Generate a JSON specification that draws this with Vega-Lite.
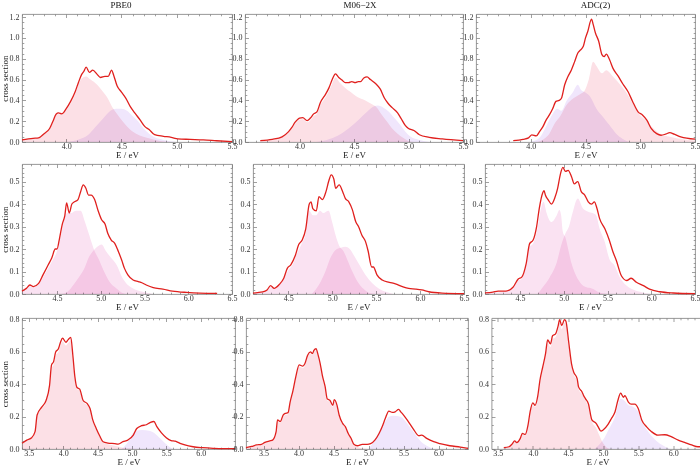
{
"$schema": "https://vega.github.io/schema/vega-lite/v6.json",
"background": "white",
"padding": {"left": 0, "top": 0, "right": 0, "bottom": 0},
"config": {
  "font": "Liberation Serif",
  "view": {"stroke": "#8c8c8c", "strokeWidth": 0.9},
  "axis": {"grid": false, "domain": false, "tickColor": "#777", "tickWidth": 0.7, "labelFont": "Liberation Serif", "labelFontSize": 8, "labelColor": "#333", "labelPadding": 5.5, "titleFont": "Liberation Serif", "titleFontSize": 9, "titleFontWeight": "normal", "titleColor": "#222", "titlePadding": 2, "labelFlush": false, "labelOverlap": false, "labelBound": false},
  "axisX": {"labelPadding": 3.5, "titleY": 8},
  "axisY": {"labelPadding": 6.5, "titlePadding": -0.5},
  "title": {"font": "Liberation Serif", "fontSize": 9, "fontWeight": "normal", "color": "#111", "offset": 3, "frame": "group"}
},
"datasets": {
"p1": [
{"s":"line","E":3.60,"v":0.02},{"s":"line","E":3.70,"v":0.035},{"s":"line","E":3.75,"v":0.04},{"s":"line","E":3.80,"v":0.08},{"s":"line","E":3.85,"v":0.13},{"s":"line","E":3.88,"v":0.2},{"s":"line","E":3.91,"v":0.27},{"s":"line","E":3.93,"v":0.28},{"s":"line","E":3.96,"v":0.27},{"s":"line","E":4.00,"v":0.32},{"s":"line","E":4.04,"v":0.39},{"s":"line","E":4.08,"v":0.48},{"s":"line","E":4.11,"v":0.57},{"s":"line","E":4.14,"v":0.65},{"s":"line","E":4.16,"v":0.68},{"s":"line","E":4.18,"v":0.72},{"s":"line","E":4.21,"v":0.67},{"s":"line","E":4.24,"v":0.69},{"s":"line","E":4.28,"v":0.65},{"s":"line","E":4.31,"v":0.62},{"s":"line","E":4.35,"v":0.63},{"s":"line","E":4.38,"v":0.63},{"s":"line","E":4.41,"v":0.69},{"s":"line","E":4.43,"v":0.64},{"s":"line","E":4.46,"v":0.54},{"s":"line","E":4.50,"v":0.48},{"s":"line","E":4.54,"v":0.42},{"s":"line","E":4.58,"v":0.34},{"s":"line","E":4.62,"v":0.28},{"s":"line","E":4.67,"v":0.21},{"s":"line","E":4.71,"v":0.15},{"s":"line","E":4.75,"v":0.12},{"s":"line","E":4.80,"v":0.07},{"s":"line","E":4.88,"v":0.055},{"s":"line","E":4.95,"v":0.045},{"s":"line","E":5.01,"v":0.03},{"s":"line","E":5.12,"v":0.025},{"s":"line","E":5.24,"v":0.02},{"s":"line","E":5.36,"v":0.012},{"s":"line","E":5.50,"v":0.003},
{"s":"r","E":3.6,"v":0.018},{"s":"r","E":3.7,"v":0.032},{"s":"r","E":3.75,"v":0.035},{"s":"r","E":3.8,"v":0.074},{"s":"r","E":3.85,"v":0.12},{"s":"r","E":3.88,"v":0.19},{"s":"r","E":3.91,"v":0.26},{"s":"r","E":3.93,"v":0.27},{"s":"r","E":3.96,"v":0.26},{"s":"r","E":4.0,"v":0.31},{"s":"r","E":4.04,"v":0.37},{"s":"r","E":4.08,"v":0.46},{"s":"r","E":4.11,"v":0.55},{"s":"r","E":4.14,"v":0.61},{"s":"r","E":4.18,"v":0.63},{"s":"r","E":4.22,"v":0.6},{"s":"r","E":4.28,"v":0.55},{"s":"r","E":4.32,"v":0.5},{"s":"r","E":4.37,"v":0.43},{"s":"r","E":4.42,"v":0.33},{"s":"r","E":4.46,"v":0.27},{"s":"r","E":4.51,"v":0.2},{"s":"r","E":4.6,"v":0.1},{"s":"r","E":4.73,"v":0.04},{"s":"r","E":4.85,"v":0.01},{"s":"r","E":4.95,"v":0},
{"s":"b","E":4.0,"v":0},{"s":"b","E":4.1,"v":0.02},{"s":"b","E":4.2,"v":0.07},{"s":"b","E":4.26,"v":0.14},{"s":"b","E":4.33,"v":0.22},{"s":"b","E":4.4,"v":0.3},{"s":"b","E":4.45,"v":0.32},{"s":"b","E":4.5,"v":0.32},{"s":"b","E":4.55,"v":0.3},{"s":"b","E":4.6,"v":0.25},{"s":"b","E":4.65,"v":0.2},{"s":"b","E":4.7,"v":0.13},{"s":"b","E":4.75,"v":0.08},{"s":"b","E":4.8,"v":0.045},{"s":"b","E":4.88,"v":0.02},{"s":"b","E":5.0,"v":0}
],
"p2": [
{"s":"line","E":3.64,"v":0.013},{"s":"line","E":3.75,"v":0.026},{"s":"line","E":3.84,"v":0.05},{"s":"line","E":3.90,"v":0.1},{"s":"line","E":3.93,"v":0.14},{"s":"line","E":3.96,"v":0.19},{"s":"line","E":4.00,"v":0.23},{"s":"line","E":4.03,"v":0.235},{"s":"line","E":4.07,"v":0.205},{"s":"line","E":4.10,"v":0.23},{"s":"line","E":4.13,"v":0.27},{"s":"line","E":4.16,"v":0.29},{"s":"line","E":4.19,"v":0.375},{"s":"line","E":4.24,"v":0.46},{"s":"line","E":4.27,"v":0.52},{"s":"line","E":4.30,"v":0.6},{"s":"line","E":4.33,"v":0.655},{"s":"line","E":4.36,"v":0.62},{"s":"line","E":4.39,"v":0.595},{"s":"line","E":4.42,"v":0.57},{"s":"line","E":4.45,"v":0.57},{"s":"line","E":4.48,"v":0.58},{"s":"line","E":4.51,"v":0.57},{"s":"line","E":4.54,"v":0.58},{"s":"line","E":4.56,"v":0.58},{"s":"line","E":4.59,"v":0.615},{"s":"line","E":4.62,"v":0.625},{"s":"line","E":4.65,"v":0.6},{"s":"line","E":4.70,"v":0.56},{"s":"line","E":4.74,"v":0.51},{"s":"line","E":4.78,"v":0.42},{"s":"line","E":4.81,"v":0.375},{"s":"line","E":4.85,"v":0.33},{"s":"line","E":4.90,"v":0.28},{"s":"line","E":4.93,"v":0.23},{"s":"line","E":4.97,"v":0.16},{"s":"line","E":5.00,"v":0.13},{"s":"line","E":5.05,"v":0.11},{"s":"line","E":5.10,"v":0.07},{"s":"line","E":5.19,"v":0.045},{"s":"line","E":5.31,"v":0.03},{"s":"line","E":5.50,"v":0.013},
{"s":"r","E":3.64,"v":0.01},{"s":"r","E":3.75,"v":0.022},{"s":"r","E":3.84,"v":0.045},{"s":"r","E":3.9,"v":0.09},{"s":"r","E":3.93,"v":0.13},{"s":"r","E":3.96,"v":0.175},{"s":"r","E":4.0,"v":0.215},{"s":"r","E":4.03,"v":0.22},{"s":"r","E":4.07,"v":0.19},{"s":"r","E":4.1,"v":0.21},{"s":"r","E":4.13,"v":0.25},{"s":"r","E":4.16,"v":0.27},{"s":"r","E":4.19,"v":0.35},{"s":"r","E":4.24,"v":0.43},{"s":"r","E":4.27,"v":0.49},{"s":"r","E":4.3,"v":0.56},{"s":"r","E":4.33,"v":0.62},{"s":"r","E":4.37,"v":0.57},{"s":"r","E":4.42,"v":0.52},{"s":"r","E":4.47,"v":0.48},{"s":"r","E":4.52,"v":0.44},{"s":"r","E":4.58,"v":0.41},{"s":"r","E":4.62,"v":0.39},{"s":"r","E":4.67,"v":0.36},{"s":"r","E":4.71,"v":0.33},{"s":"r","E":4.75,"v":0.27},{"s":"r","E":4.8,"v":0.2},{"s":"r","E":4.85,"v":0.13},{"s":"r","E":4.9,"v":0.08},{"s":"r","E":4.95,"v":0.04},{"s":"r","E":5.0,"v":0.01},{"s":"r","E":5.05,"v":0},
{"s":"b","E":4.15,"v":0},{"s":"b","E":4.25,"v":0.02},{"s":"b","E":4.35,"v":0.06},{"s":"b","E":4.45,"v":0.13},{"s":"b","E":4.55,"v":0.22},{"s":"b","E":4.62,"v":0.29},{"s":"b","E":4.68,"v":0.34},{"s":"b","E":4.72,"v":0.35},{"s":"b","E":4.77,"v":0.33},{"s":"b","E":4.82,"v":0.29},{"s":"b","E":4.87,"v":0.23},{"s":"b","E":4.92,"v":0.17},{"s":"b","E":4.97,"v":0.1},{"s":"b","E":5.02,"v":0.05},{"s":"b","E":5.1,"v":0.02},{"s":"b","E":5.2,"v":0}
],
"p3": [
{"s":"line","E":3.84,"v":0.013},{"s":"line","E":3.93,"v":0.026},{"s":"line","E":3.98,"v":0.04},{"s":"line","E":4.01,"v":0.068},{"s":"line","E":4.05,"v":0.058},{"s":"line","E":4.08,"v":0.1},{"s":"line","E":4.11,"v":0.145},{"s":"line","E":4.14,"v":0.21},{"s":"line","E":4.17,"v":0.26},{"s":"line","E":4.20,"v":0.32},{"s":"line","E":4.23,"v":0.39},{"s":"line","E":4.26,"v":0.4},{"s":"line","E":4.28,"v":0.42},{"s":"line","E":4.31,"v":0.55},{"s":"line","E":4.34,"v":0.63},{"s":"line","E":4.37,"v":0.69},{"s":"line","E":4.40,"v":0.77},{"s":"line","E":4.43,"v":0.855},{"s":"line","E":4.45,"v":0.88},{"s":"line","E":4.48,"v":0.92},{"s":"line","E":4.50,"v":1.0},{"s":"line","E":4.52,"v":1.06},{"s":"line","E":4.555,"v":1.18},{"s":"line","E":4.57,"v":1.13},{"s":"line","E":4.59,"v":1.05},{"s":"line","E":4.62,"v":0.97},{"s":"line","E":4.65,"v":0.84},{"s":"line","E":4.67,"v":0.82},{"s":"line","E":4.69,"v":0.845},{"s":"line","E":4.72,"v":0.79},{"s":"line","E":4.75,"v":0.71},{"s":"line","E":4.80,"v":0.63},{"s":"line","E":4.84,"v":0.56},{"s":"line","E":4.89,"v":0.48},{"s":"line","E":4.93,"v":0.39},{"s":"line","E":4.98,"v":0.29},{"s":"line","E":5.02,"v":0.26},{"s":"line","E":5.06,"v":0.21},{"s":"line","E":5.10,"v":0.13},{"s":"line","E":5.15,"v":0.08},{"s":"line","E":5.19,"v":0.065},{"s":"line","E":5.23,"v":0.075},{"s":"line","E":5.27,"v":0.09},{"s":"line","E":5.31,"v":0.075},{"s":"line","E":5.37,"v":0.05},{"s":"line","E":5.50,"v":0.028},
{"s":"r","E":4.05,"v":0},{"s":"r","E":4.12,"v":0.03},{"s":"r","E":4.17,"v":0.08},{"s":"r","E":4.22,"v":0.18},{"s":"r","E":4.27,"v":0.25},{"s":"r","E":4.33,"v":0.36},{"s":"r","E":4.39,"v":0.42},{"s":"r","E":4.45,"v":0.46},{"s":"r","E":4.49,"v":0.49},{"s":"r","E":4.53,"v":0.6},{"s":"r","E":4.57,"v":0.77},{"s":"r","E":4.6,"v":0.73},{"s":"r","E":4.65,"v":0.66},{"s":"r","E":4.69,"v":0.69},{"s":"r","E":4.75,"v":0.63},{"s":"r","E":4.81,"v":0.56},{"s":"r","E":4.87,"v":0.48},{"s":"r","E":4.93,"v":0.37},{"s":"r","E":4.99,"v":0.27},{"s":"r","E":5.06,"v":0.2},{"s":"r","E":5.12,"v":0.13},{"s":"r","E":5.18,"v":0.08},{"s":"r","E":5.27,"v":0.05},{"s":"r","E":5.39,"v":0.026},{"s":"r","E":5.5,"v":0.015},
{"s":"b","E":4.0,"v":0},{"s":"b","E":4.08,"v":0.04},{"s":"b","E":4.14,"v":0.15},{"s":"b","E":4.2,"v":0.27},{"s":"b","E":4.24,"v":0.32},{"s":"b","E":4.28,"v":0.3},{"s":"b","E":4.33,"v":0.4},{"s":"b","E":4.38,"v":0.47},{"s":"b","E":4.43,"v":0.55},{"s":"b","E":4.46,"v":0.5},{"s":"b","E":4.49,"v":0.48},{"s":"b","E":4.54,"v":0.44},{"s":"b","E":4.6,"v":0.32},{"s":"b","E":4.66,"v":0.24},{"s":"b","E":4.72,"v":0.16},{"s":"b","E":4.78,"v":0.08},{"s":"b","E":4.84,"v":0.03},{"s":"b","E":4.9,"v":0}
],
"p4": [
{"s":"line","E":4.10,"v":0.013},{"s":"line","E":4.15,"v":0.025},{"s":"line","E":4.19,"v":0.04},{"s":"line","E":4.23,"v":0.033},{"s":"line","E":4.29,"v":0.047},{"s":"line","E":4.34,"v":0.085},{"s":"line","E":4.40,"v":0.13},{"s":"line","E":4.44,"v":0.16},{"s":"line","E":4.48,"v":0.2},{"s":"line","E":4.50,"v":0.2},{"s":"line","E":4.53,"v":0.25},{"s":"line","E":4.56,"v":0.31},{"s":"line","E":4.59,"v":0.35},{"s":"line","E":4.61,"v":0.405},{"s":"line","E":4.64,"v":0.36},{"s":"line","E":4.67,"v":0.40},{"s":"line","E":4.70,"v":0.41},{"s":"line","E":4.74,"v":0.42},{"s":"line","E":4.77,"v":0.455},{"s":"line","E":4.80,"v":0.485},{"s":"line","E":4.83,"v":0.47},{"s":"line","E":4.86,"v":0.44},{"s":"line","E":4.89,"v":0.44},{"s":"line","E":4.93,"v":0.42},{"s":"line","E":4.97,"v":0.37},{"s":"line","E":5.01,"v":0.33},{"s":"line","E":5.05,"v":0.31},{"s":"line","E":5.08,"v":0.27},{"s":"line","E":5.12,"v":0.24},{"s":"line","E":5.16,"v":0.225},{"s":"line","E":5.20,"v":0.19},{"s":"line","E":5.24,"v":0.15},{"s":"line","E":5.27,"v":0.115},{"s":"line","E":5.31,"v":0.085},{"s":"line","E":5.37,"v":0.062},{"s":"line","E":5.43,"v":0.055},{"s":"line","E":5.47,"v":0.05},{"s":"line","E":5.52,"v":0.04},{"s":"line","E":5.60,"v":0.028},{"s":"line","E":5.71,"v":0.022},{"s":"line","E":5.82,"v":0.013},{"s":"line","E":5.98,"v":0.007},{"s":"line","E":6.13,"v":0.004},{"s":"line","E":6.33,"v":0.003},
{"s":"r","E":4.1,"v":0.01},{"s":"r","E":4.15,"v":0.02},{"s":"r","E":4.19,"v":0.035},{"s":"r","E":4.23,"v":0.03},{"s":"r","E":4.29,"v":0.043},{"s":"r","E":4.34,"v":0.075},{"s":"r","E":4.4,"v":0.115},{"s":"r","E":4.45,"v":0.15},{"s":"r","E":4.5,"v":0.19},{"s":"r","E":4.55,"v":0.27},{"s":"r","E":4.58,"v":0.33},{"s":"r","E":4.62,"v":0.36},{"s":"r","E":4.66,"v":0.36},{"s":"r","E":4.72,"v":0.37},{"s":"r","E":4.77,"v":0.37},{"s":"r","E":4.82,"v":0.32},{"s":"r","E":4.87,"v":0.26},{"s":"r","E":4.93,"v":0.19},{"s":"r","E":4.97,"v":0.16},{"s":"r","E":5.03,"v":0.107},{"s":"r","E":5.1,"v":0.055},{"s":"r","E":5.18,"v":0.025},{"s":"r","E":5.25,"v":0.005},{"s":"r","E":5.3,"v":0},
{"s":"b","E":4.55,"v":0},{"s":"b","E":4.62,"v":0.01},{"s":"b","E":4.7,"v":0.047},{"s":"b","E":4.76,"v":0.08},{"s":"b","E":4.82,"v":0.12},{"s":"b","E":4.86,"v":0.16},{"s":"b","E":4.91,"v":0.19},{"s":"b","E":4.96,"v":0.21},{"s":"b","E":5.01,"v":0.22},{"s":"b","E":5.06,"v":0.19},{"s":"b","E":5.12,"v":0.16},{"s":"b","E":5.18,"v":0.13},{"s":"b","E":5.25,"v":0.07},{"s":"b","E":5.31,"v":0.04},{"s":"b","E":5.37,"v":0.025},{"s":"b","E":5.48,"v":0.01},{"s":"b","E":5.6,"v":0}
],
"p5": [
{"s":"line","E":4.10,"v":0.004},{"s":"line","E":4.21,"v":0.009},{"s":"line","E":4.26,"v":0.018},{"s":"line","E":4.30,"v":0.037},{"s":"line","E":4.34,"v":0.025},{"s":"line","E":4.40,"v":0.043},{"s":"line","E":4.45,"v":0.07},{"s":"line","E":4.49,"v":0.114},{"s":"line","E":4.53,"v":0.13},{"s":"line","E":4.58,"v":0.17},{"s":"line","E":4.62,"v":0.22},{"s":"line","E":4.66,"v":0.24},{"s":"line","E":4.70,"v":0.29},{"s":"line","E":4.74,"v":0.40},{"s":"line","E":4.76,"v":0.41},{"s":"line","E":4.78,"v":0.38},{"s":"line","E":4.82,"v":0.37},{"s":"line","E":4.85,"v":0.433},{"s":"line","E":4.89,"v":0.42},{"s":"line","E":4.93,"v":0.455},{"s":"line","E":4.96,"v":0.50},{"s":"line","E":4.99,"v":0.53},{"s":"line","E":5.02,"v":0.51},{"s":"line","E":5.04,"v":0.47},{"s":"line","E":5.08,"v":0.485},{"s":"line","E":5.12,"v":0.455},{"s":"line","E":5.15,"v":0.425},{"s":"line","E":5.19,"v":0.41},{"s":"line","E":5.23,"v":0.375},{"s":"line","E":5.27,"v":0.32},{"s":"line","E":5.30,"v":0.30},{"s":"line","E":5.34,"v":0.26},{"s":"line","E":5.38,"v":0.233},{"s":"line","E":5.41,"v":0.19},{"s":"line","E":5.45,"v":0.12},{"s":"line","E":5.47,"v":0.12},{"s":"line","E":5.51,"v":0.085},{"s":"line","E":5.57,"v":0.062},{"s":"line","E":5.65,"v":0.052},{"s":"line","E":5.72,"v":0.045},{"s":"line","E":5.80,"v":0.033},{"s":"line","E":5.87,"v":0.025},{"s":"line","E":5.95,"v":0.022},{"s":"line","E":6.02,"v":0.018},{"s":"line","E":6.10,"v":0.01},{"s":"line","E":6.25,"v":0.004},{"s":"line","E":6.50,"v":0.0015},
{"s":"r","E":4.1,"v":0.003},{"s":"r","E":4.2,"v":0.007},{"s":"r","E":4.26,"v":0.015},{"s":"r","E":4.3,"v":0.03},{"s":"r","E":4.34,"v":0.022},{"s":"r","E":4.4,"v":0.04},{"s":"r","E":4.45,"v":0.065},{"s":"r","E":4.5,"v":0.105},{"s":"r","E":4.55,"v":0.13},{"s":"r","E":4.6,"v":0.18},{"s":"r","E":4.65,"v":0.22},{"s":"r","E":4.7,"v":0.27},{"s":"r","E":4.74,"v":0.37},{"s":"r","E":4.78,"v":0.35},{"s":"r","E":4.82,"v":0.35},{"s":"r","E":4.86,"v":0.37},{"s":"r","E":4.9,"v":0.36},{"s":"r","E":4.96,"v":0.37},{"s":"r","E":5.0,"v":0.32},{"s":"r","E":5.04,"v":0.26},{"s":"r","E":5.08,"v":0.215},{"s":"r","E":5.13,"v":0.19},{"s":"r","E":5.17,"v":0.155},{"s":"r","E":5.23,"v":0.1},{"s":"r","E":5.29,"v":0.055},{"s":"r","E":5.36,"v":0.022},{"s":"r","E":5.42,"v":0.005},{"s":"r","E":5.5,"v":0},
{"s":"b","E":4.77,"v":0},{"s":"b","E":4.87,"v":0.055},{"s":"b","E":4.93,"v":0.107},{"s":"b","E":4.98,"v":0.16},{"s":"b","E":5.04,"v":0.196},{"s":"b","E":5.1,"v":0.206},{"s":"b","E":5.15,"v":0.21},{"s":"b","E":5.2,"v":0.2},{"s":"b","E":5.25,"v":0.17},{"s":"b","E":5.3,"v":0.137},{"s":"b","E":5.38,"v":0.085},{"s":"b","E":5.46,"v":0.047},{"s":"b","E":5.53,"v":0.025},{"s":"b","E":5.61,"v":0.01},{"s":"b","E":5.7,"v":0}
],
"p6": [
{"s":"line","E":4.10,"v":0.005},{"s":"line","E":4.19,"v":0.008},{"s":"line","E":4.25,"v":0.013},{"s":"line","E":4.34,"v":0.013},{"s":"line","E":4.42,"v":0.03},{"s":"line","E":4.48,"v":0.067},{"s":"line","E":4.52,"v":0.075},{"s":"line","E":4.57,"v":0.134},{"s":"line","E":4.61,"v":0.224},{"s":"line","E":4.65,"v":0.24},{"s":"line","E":4.69,"v":0.30},{"s":"line","E":4.72,"v":0.38},{"s":"line","E":4.76,"v":0.45},{"s":"line","E":4.775,"v":0.46},{"s":"line","E":4.79,"v":0.44},{"s":"line","E":4.82,"v":0.42},{"s":"line","E":4.86,"v":0.40},{"s":"line","E":4.90,"v":0.43},{"s":"line","E":4.93,"v":0.47},{"s":"line","E":4.96,"v":0.53},{"s":"line","E":4.99,"v":0.563},{"s":"line","E":5.02,"v":0.545},{"s":"line","E":5.05,"v":0.55},{"s":"line","E":5.09,"v":0.52},{"s":"line","E":5.12,"v":0.49},{"s":"line","E":5.16,"v":0.50},{"s":"line","E":5.20,"v":0.455},{"s":"line","E":5.24,"v":0.44},{"s":"line","E":5.28,"v":0.41},{"s":"line","E":5.32,"v":0.40},{"s":"line","E":5.35,"v":0.41},{"s":"line","E":5.38,"v":0.38},{"s":"line","E":5.41,"v":0.335},{"s":"line","E":5.47,"v":0.29},{"s":"line","E":5.52,"v":0.24},{"s":"line","E":5.56,"v":0.19},{"s":"line","E":5.60,"v":0.15},{"s":"line","E":5.66,"v":0.08},{"s":"line","E":5.72,"v":0.06},{"s":"line","E":5.77,"v":0.07},{"s":"line","E":5.83,"v":0.052},{"s":"line","E":5.91,"v":0.037},{"s":"line","E":5.98,"v":0.022},{"s":"line","E":6.10,"v":0.01},{"s":"line","E":6.25,"v":0.0045},{"s":"line","E":6.50,"v":0.0015},
{"s":"r","E":4.1,"v":0.003},{"s":"r","E":4.3,"v":0.01},{"s":"r","E":4.42,"v":0.025},{"s":"r","E":4.48,"v":0.06},{"s":"r","E":4.52,"v":0.068},{"s":"r","E":4.57,"v":0.125},{"s":"r","E":4.61,"v":0.21},{"s":"r","E":4.65,"v":0.225},{"s":"r","E":4.7,"v":0.29},{"s":"r","E":4.74,"v":0.38},{"s":"r","E":4.77,"v":0.41},{"s":"r","E":4.8,"v":0.365},{"s":"r","E":4.86,"v":0.32},{"s":"r","E":4.92,"v":0.35},{"s":"r","E":4.95,"v":0.373},{"s":"r","E":4.97,"v":0.35},{"s":"r","E":4.99,"v":0.276},{"s":"r","E":5.02,"v":0.25},{"s":"r","E":5.05,"v":0.2},{"s":"r","E":5.09,"v":0.134},{"s":"r","E":5.14,"v":0.082},{"s":"r","E":5.2,"v":0.045},{"s":"r","E":5.26,"v":0.03},{"s":"r","E":5.32,"v":0.025},{"s":"r","E":5.41,"v":0.007},{"s":"r","E":5.5,"v":0},
{"s":"b","E":4.7,"v":0},{"s":"b","E":4.76,"v":0.03},{"s":"b","E":4.84,"v":0.075},{"s":"b","E":4.92,"v":0.14},{"s":"b","E":4.97,"v":0.216},{"s":"b","E":5.02,"v":0.27},{"s":"b","E":5.06,"v":0.3},{"s":"b","E":5.1,"v":0.36},{"s":"b","E":5.16,"v":0.425},{"s":"b","E":5.22,"v":0.38},{"s":"b","E":5.28,"v":0.366},{"s":"b","E":5.33,"v":0.36},{"s":"b","E":5.37,"v":0.35},{"s":"b","E":5.41,"v":0.29},{"s":"b","E":5.47,"v":0.23},{"s":"b","E":5.52,"v":0.157},{"s":"b","E":5.58,"v":0.127},{"s":"b","E":5.64,"v":0.075},{"s":"b","E":5.72,"v":0.037},{"s":"b","E":5.79,"v":0.02},{"s":"b","E":5.9,"v":0.007},{"s":"b","E":6.0,"v":0}
],
"p7": [
{"s":"line","E":3.40,"v":0.035},{"s":"line","E":3.47,"v":0.055},{"s":"line","E":3.54,"v":0.07},{"s":"line","E":3.59,"v":0.107},{"s":"line","E":3.62,"v":0.21},{"s":"line","E":3.69,"v":0.26},{"s":"line","E":3.75,"v":0.30},{"s":"line","E":3.80,"v":0.39},{"s":"line","E":3.83,"v":0.52},{"s":"line","E":3.86,"v":0.54},{"s":"line","E":3.89,"v":0.6},{"s":"line","E":3.93,"v":0.62},{"s":"line","E":3.96,"v":0.66},{"s":"line","E":3.99,"v":0.685},{"s":"line","E":4.04,"v":0.66},{"s":"line","E":4.07,"v":0.675},{"s":"line","E":4.11,"v":0.69},{"s":"line","E":4.14,"v":0.58},{"s":"line","E":4.17,"v":0.445},{"s":"line","E":4.20,"v":0.38},{"s":"line","E":4.24,"v":0.37},{"s":"line","E":4.29,"v":0.30},{"s":"line","E":4.35,"v":0.28},{"s":"line","E":4.39,"v":0.25},{"s":"line","E":4.43,"v":0.18},{"s":"line","E":4.48,"v":0.127},{"s":"line","E":4.53,"v":0.082},{"s":"line","E":4.58,"v":0.045},{"s":"line","E":4.65,"v":0.037},{"s":"line","E":4.75,"v":0.033},{"s":"line","E":4.80,"v":0.03},{"s":"line","E":4.87,"v":0.045},{"s":"line","E":4.94,"v":0.055},{"s":"line","E":5.02,"v":0.086},{"s":"line","E":5.07,"v":0.127},{"s":"line","E":5.14,"v":0.144},{"s":"line","E":5.21,"v":0.15},{"s":"line","E":5.27,"v":0.165},{"s":"line","E":5.32,"v":0.17},{"s":"line","E":5.36,"v":0.14},{"s":"line","E":5.43,"v":0.1},{"s":"line","E":5.50,"v":0.07},{"s":"line","E":5.57,"v":0.052},{"s":"line","E":5.63,"v":0.048},{"s":"line","E":5.70,"v":0.035},{"s":"line","E":5.77,"v":0.025},{"s":"line","E":5.89,"v":0.014},{"s":"line","E":6.03,"v":0.008},{"s":"line","E":6.18,"v":0.004},{"s":"line","E":6.32,"v":0.002},{"s":"line","E":6.50,"v":0.002},
{"s":"r","E":3.40,"v":0.033},{"s":"r","E":3.47,"v":0.052},{"s":"r","E":3.54,"v":0.066},{"s":"r","E":3.59,"v":0.1},{"s":"r","E":3.62,"v":0.2},{"s":"r","E":3.69,"v":0.25},{"s":"r","E":3.75,"v":0.29},{"s":"r","E":3.80,"v":0.38},{"s":"r","E":3.83,"v":0.5},{"s":"r","E":3.86,"v":0.52},{"s":"r","E":3.89,"v":0.58},{"s":"r","E":3.93,"v":0.6},{"s":"r","E":3.96,"v":0.64},{"s":"r","E":3.99,"v":0.665},{"s":"r","E":4.04,"v":0.64},{"s":"r","E":4.07,"v":0.655},{"s":"r","E":4.11,"v":0.67},{"s":"r","E":4.14,"v":0.56},{"s":"r","E":4.17,"v":0.43},{"s":"r","E":4.2,"v":0.37},{"s":"r","E":4.24,"v":0.36},{"s":"r","E":4.29,"v":0.29},{"s":"r","E":4.35,"v":0.27},{"s":"r","E":4.39,"v":0.24},{"s":"r","E":4.43,"v":0.17},{"s":"r","E":4.48,"v":0.12},{"s":"r","E":4.53,"v":0.075},{"s":"r","E":4.58,"v":0.04},{"s":"r","E":4.65,"v":0.03},{"s":"r","E":4.75,"v":0.02},{"s":"r","E":4.85,"v":0.01},{"s":"r","E":4.95,"v":0.003},{"s":"r","E":5.05,"v":0},
{"s":"b","E":4.85,"v":0},{"s":"b","E":4.9,"v":0.02},{"s":"b","E":4.95,"v":0.05},{"s":"b","E":5.0,"v":0.09},{"s":"b","E":5.05,"v":0.11},{"s":"b","E":5.15,"v":0.117},{"s":"b","E":5.25,"v":0.113},{"s":"b","E":5.3,"v":0.105},{"s":"b","E":5.35,"v":0.09},{"s":"b","E":5.4,"v":0.07},{"s":"b","E":5.45,"v":0.05},{"s":"b","E":5.5,"v":0.03},{"s":"b","E":5.55,"v":0.012},{"s":"b","E":5.6,"v":0}
],
"p8": [
{"s":"line","E":3.25,"v":0.008},{"s":"line","E":3.33,"v":0.016},{"s":"line","E":3.40,"v":0.025},{"s":"line","E":3.47,"v":0.029},{"s":"line","E":3.52,"v":0.041},{"s":"line","E":3.59,"v":0.05},{"s":"line","E":3.63,"v":0.055},{"s":"line","E":3.68,"v":0.107},{"s":"line","E":3.70,"v":0.18},{"s":"line","E":3.74,"v":0.17},{"s":"line","E":3.78,"v":0.21},{"s":"line","E":3.81,"v":0.22},{"s":"line","E":3.85,"v":0.225},{"s":"line","E":3.88,"v":0.29},{"s":"line","E":3.92,"v":0.36},{"s":"line","E":3.96,"v":0.445},{"s":"line","E":4.01,"v":0.52},{"s":"line","E":4.06,"v":0.513},{"s":"line","E":4.09,"v":0.527},{"s":"line","E":4.13,"v":0.58},{"s":"line","E":4.17,"v":0.6},{"s":"line","E":4.20,"v":0.59},{"s":"line","E":4.22,"v":0.61},{"s":"line","E":4.25,"v":0.62},{"s":"line","E":4.28,"v":0.58},{"s":"line","E":4.31,"v":0.527},{"s":"line","E":4.34,"v":0.455},{"s":"line","E":4.38,"v":0.385},{"s":"line","E":4.41,"v":0.31},{"s":"line","E":4.45,"v":0.30},{"s":"line","E":4.49,"v":0.27},{"s":"line","E":4.51,"v":0.305},{"s":"line","E":4.55,"v":0.27},{"s":"line","E":4.58,"v":0.21},{"s":"line","E":4.63,"v":0.158},{"s":"line","E":4.67,"v":0.137},{"s":"line","E":4.71,"v":0.096},{"s":"line","E":4.75,"v":0.066},{"s":"line","E":4.79,"v":0.029},{"s":"line","E":4.84,"v":0.02},{"s":"line","E":4.91,"v":0.029},{"s":"line","E":4.98,"v":0.029},{"s":"line","E":5.03,"v":0.033},{"s":"line","E":5.09,"v":0.055},{"s":"line","E":5.15,"v":0.096},{"s":"line","E":5.20,"v":0.144},{"s":"line","E":5.24,"v":0.19},{"s":"line","E":5.29,"v":0.234},{"s":"line","E":5.34,"v":0.226},{"s":"line","E":5.38,"v":0.23},{"s":"line","E":5.43,"v":0.245},{"s":"line","E":5.46,"v":0.23},{"s":"line","E":5.50,"v":0.21},{"s":"line","E":5.57,"v":0.168},{"s":"line","E":5.64,"v":0.123},{"s":"line","E":5.72,"v":0.082},{"s":"line","E":5.76,"v":0.086},{"s":"line","E":5.83,"v":0.066},{"s":"line","E":5.93,"v":0.045},{"s":"line","E":6.02,"v":0.033},{"s":"line","E":6.16,"v":0.02},{"s":"line","E":6.31,"v":0.012},{"s":"line","E":6.42,"v":0.004},
{"s":"r","E":3.25,"v":0.006},{"s":"r","E":3.33,"v":0.014},{"s":"r","E":3.4,"v":0.022},{"s":"r","E":3.47,"v":0.027},{"s":"r","E":3.52,"v":0.038},{"s":"r","E":3.59,"v":0.047},{"s":"r","E":3.63,"v":0.052},{"s":"r","E":3.68,"v":0.1},{"s":"r","E":3.7,"v":0.17},{"s":"r","E":3.74,"v":0.16},{"s":"r","E":3.78,"v":0.2},{"s":"r","E":3.81,"v":0.21},{"s":"r","E":3.85,"v":0.215},{"s":"r","E":3.88,"v":0.28},{"s":"r","E":3.92,"v":0.35},{"s":"r","E":3.96,"v":0.43},{"s":"r","E":4.01,"v":0.51},{"s":"r","E":4.06,"v":0.5},{"s":"r","E":4.09,"v":0.515},{"s":"r","E":4.13,"v":0.57},{"s":"r","E":4.17,"v":0.59},{"s":"r","E":4.2,"v":0.58},{"s":"r","E":4.22,"v":0.6},{"s":"r","E":4.25,"v":0.61},{"s":"r","E":4.28,"v":0.57},{"s":"r","E":4.31,"v":0.515},{"s":"r","E":4.34,"v":0.445},{"s":"r","E":4.38,"v":0.375},{"s":"r","E":4.41,"v":0.3},{"s":"r","E":4.45,"v":0.29},{"s":"r","E":4.49,"v":0.26},{"s":"r","E":4.51,"v":0.29},{"s":"r","E":4.55,"v":0.26},{"s":"r","E":4.58,"v":0.2},{"s":"r","E":4.63,"v":0.15},{"s":"r","E":4.67,"v":0.13},{"s":"r","E":4.71,"v":0.09},{"s":"r","E":4.75,"v":0.06},{"s":"r","E":4.79,"v":0.025},{"s":"r","E":4.84,"v":0.012},{"s":"r","E":4.9,"v":0.004},{"s":"r","E":5.0,"v":0},
{"s":"b","E":5.0,"v":0},{"s":"b","E":5.08,"v":0.05},{"s":"b","E":5.17,"v":0.12},{"s":"b","E":5.24,"v":0.17},{"s":"b","E":5.29,"v":0.2},{"s":"b","E":5.35,"v":0.205},{"s":"b","E":5.46,"v":0.2},{"s":"b","E":5.53,"v":0.17},{"s":"b","E":5.6,"v":0.13},{"s":"b","E":5.67,"v":0.09},{"s":"b","E":5.74,"v":0.05},{"s":"b","E":5.83,"v":0.02},{"s":"b","E":5.93,"v":0}
],
"p9": [
{"s":"line","E":3.585,"v":0.008},{"s":"line","E":3.66,"v":0.014},{"s":"line","E":3.70,"v":0.029},{"s":"line","E":3.74,"v":0.05},{"s":"line","E":3.77,"v":0.04},{"s":"line","E":3.82,"v":0.066},{"s":"line","E":3.85,"v":0.096},{"s":"line","E":3.89,"v":0.09},{"s":"line","E":3.93,"v":0.148},{"s":"line","E":3.96,"v":0.23},{"s":"line","E":4.00,"v":0.285},{"s":"line","E":4.03,"v":0.27},{"s":"line","E":4.07,"v":0.33},{"s":"line","E":4.10,"v":0.425},{"s":"line","E":4.14,"v":0.507},{"s":"line","E":4.18,"v":0.59},{"s":"line","E":4.21,"v":0.675},{"s":"line","E":4.25,"v":0.65},{"s":"line","E":4.28,"v":0.70},{"s":"line","E":4.32,"v":0.71},{"s":"line","E":4.36,"v":0.763},{"s":"line","E":4.38,"v":0.80},{"s":"line","E":4.41,"v":0.763},{"s":"line","E":4.45,"v":0.80},{"s":"line","E":4.47,"v":0.79},{"s":"line","E":4.51,"v":0.66},{"s":"line","E":4.55,"v":0.527},{"s":"line","E":4.58,"v":0.476},{"s":"line","E":4.63,"v":0.435},{"s":"line","E":4.65,"v":0.384},{"s":"line","E":4.70,"v":0.353},{"s":"line","E":4.72,"v":0.332},{"s":"line","E":4.75,"v":0.31},{"s":"line","E":4.79,"v":0.28},{"s":"line","E":4.84,"v":0.18},{"s":"line","E":4.90,"v":0.158},{"s":"line","E":4.93,"v":0.137},{"s":"line","E":4.97,"v":0.11},{"s":"line","E":5.00,"v":0.117},{"s":"line","E":5.07,"v":0.152},{"s":"line","E":5.12,"v":0.19},{"s":"line","E":5.17,"v":0.23},{"s":"line","E":5.21,"v":0.30},{"s":"line","E":5.25,"v":0.345},{"s":"line","E":5.29,"v":0.32},{"s":"line","E":5.31,"v":0.33},{"s":"line","E":5.36,"v":0.29},{"s":"line","E":5.40,"v":0.277},{"s":"line","E":5.45,"v":0.277},{"s":"line","E":5.50,"v":0.25},{"s":"line","E":5.55,"v":0.18},{"s":"line","E":5.62,"v":0.137},{"s":"line","E":5.69,"v":0.107},{"s":"line","E":5.78,"v":0.086},{"s":"line","E":5.88,"v":0.088},{"s":"line","E":5.97,"v":0.076},{"s":"line","E":6.07,"v":0.055},{"s":"line","E":6.16,"v":0.041},{"s":"line","E":6.26,"v":0.025},{"s":"line","E":6.35,"v":0.014},{"s":"line","E":6.43,"v":0.014},
{"s":"r","E":3.585,"v":0.006},{"s":"r","E":3.66,"v":0.012},{"s":"r","E":3.7,"v":0.027},{"s":"r","E":3.74,"v":0.045},{"s":"r","E":3.77,"v":0.037},{"s":"r","E":3.82,"v":0.062},{"s":"r","E":3.85,"v":0.09},{"s":"r","E":3.89,"v":0.085},{"s":"r","E":3.93,"v":0.14},{"s":"r","E":3.96,"v":0.22},{"s":"r","E":4.0,"v":0.27},{"s":"r","E":4.03,"v":0.26},{"s":"r","E":4.07,"v":0.32},{"s":"r","E":4.1,"v":0.41},{"s":"r","E":4.14,"v":0.49},{"s":"r","E":4.18,"v":0.57},{"s":"r","E":4.21,"v":0.66},{"s":"r","E":4.25,"v":0.63},{"s":"r","E":4.28,"v":0.68},{"s":"r","E":4.32,"v":0.69},{"s":"r","E":4.36,"v":0.74},{"s":"r","E":4.38,"v":0.78},{"s":"r","E":4.41,"v":0.74},{"s":"r","E":4.45,"v":0.78},{"s":"r","E":4.47,"v":0.77},{"s":"r","E":4.51,"v":0.64},{"s":"r","E":4.55,"v":0.51},{"s":"r","E":4.58,"v":0.46},{"s":"r","E":4.63,"v":0.42},{"s":"r","E":4.65,"v":0.37},{"s":"r","E":4.7,"v":0.34},{"s":"r","E":4.75,"v":0.3},{"s":"r","E":4.79,"v":0.26},{"s":"r","E":4.84,"v":0.17},{"s":"r","E":4.9,"v":0.13},{"s":"r","E":4.95,"v":0.08},{"s":"r","E":5.0,"v":0.035},{"s":"r","E":5.05,"v":0.01},{"s":"r","E":5.1,"v":0},
{"s":"b","E":4.88,"v":0},{"s":"b","E":4.93,"v":0.02},{"s":"b","E":4.97,"v":0.04},{"s":"b","E":5.02,"v":0.07},{"s":"b","E":5.08,"v":0.12},{"s":"b","E":5.13,"v":0.16},{"s":"b","E":5.17,"v":0.2},{"s":"b","E":5.21,"v":0.27},{"s":"b","E":5.25,"v":0.31},{"s":"b","E":5.3,"v":0.3},{"s":"b","E":5.36,"v":0.27},{"s":"b","E":5.43,"v":0.26},{"s":"b","E":5.5,"v":0.23},{"s":"b","E":5.55,"v":0.17},{"s":"b","E":5.62,"v":0.12},{"s":"b","E":5.69,"v":0.08},{"s":"b","E":5.76,"v":0.05},{"s":"b","E":5.86,"v":0.02},{"s":"b","E":5.95,"v":0}
]
},
"spacing": 3,
"vconcat": [
{"hconcat": [
 {"width": 210, "height": 128, "title": {"text": "PBE0", "dx": -6}, "data": {"name": "p1"},
  "resolve": {"axis": {"x": "independent", "y": "independent"}},
  "encoding": {
   "x": {"field": "E", "type": "quantitative", "scale": {"domain": [3.6, 5.5], "nice": false, "zero": false}, "axis": {"title": "E / eV", "values": [3.6,3.7,3.8,3.9,4.0,4.1,4.2,4.3,4.4,4.5,4.6,4.7,4.8,4.9,5.0,5.1,5.2,5.3,5.4,5.5], "labelExpr": "abs(datum.value*2-round(datum.value*2))<0.01 ? format(datum.value,'.1f') : ''", "tickSize": {"condition": {"test": "abs(datum.value*2-round(datum.value*2))<0.01", "value": -3.5}, "value": -1.8}}},
   "y": {"field": "v", "type": "quantitative", "stack": null, "scale": {"domain": [0, 1.23], "nice": false}, "axis": {"title": "cross section", "values": [0,0.05,0.1,0.15,0.2,0.25,0.3,0.35,0.4,0.45,0.5,0.55,0.6,0.65,0.7,0.75,0.8,0.85,0.9,0.95,1.0,1.05,1.1,1.15,1.2], "labelExpr": "abs(datum.value*5-round(datum.value*5))<0.01 ? format(datum.value,'.1f') : ''", "tickSize": {"condition": {"test": "abs(datum.value*5-round(datum.value*5))<0.01", "value": -3.5}, "value": -1.8}}}
  },
  "layer": [
   {"transform": [{"filter": "datum.s=='r'"}], "mark": {"type": "area", "color": "#fce0e6", "blend": "multiply", "interpolate": "monotone"}},
   {"transform": [{"filter": "datum.s=='b'"}], "mark": {"type": "area", "color": "#f0e6fc", "blend": "multiply", "interpolate": "monotone"},
    "encoding": {"x": {"field": "E", "type": "quantitative", "scale": {"domain": [3.6, 5.5], "nice": false, "zero": false}, "axis": null}, "y": {"field": "v", "type": "quantitative", "stack": null, "scale": {"domain": [0, 1.23], "nice": false}, "axis": null}}},
   {"transform": [{"filter": "datum.s=='line'"}], "mark": {"type": "line", "color": "#e0201e", "strokeWidth": 1.3, "interpolate": "monotone"},
    "encoding": {"x": {"field": "E", "type": "quantitative", "scale": {"domain": [3.6, 5.5], "nice": false, "zero": false}, "axis": {"orient": "top", "labels": false, "title": null, "values": [3.6,3.7,3.8,3.9,4.0,4.1,4.2,4.3,4.4,4.5,4.6,4.7,4.8,4.9,5.0,5.1,5.2,5.3,5.4,5.5], "tickSize": {"condition": {"test": "abs(datum.value*2-round(datum.value*2))<0.01", "value": -3.5}, "value": -1.8}}}, "y": {"field": "v", "type": "quantitative", "stack": null, "scale": {"domain": [0, 1.23], "nice": false}, "axis": {"orient": "right", "labels": false, "title": null, "values": [0,0.05,0.1,0.15,0.2,0.25,0.3,0.35,0.4,0.45,0.5,0.55,0.6,0.65,0.7,0.75,0.8,0.85,0.9,0.95,1.0,1.05,1.1,1.15,1.2], "tickSize": {"condition": {"test": "abs(datum.value*5-round(datum.value*5))<0.01", "value": -3.5}, "value": -1.8}}}}}
  ]},
 {"width": 218, "height": 128, "title": {"text": "M06−2X", "dx": 6}, "data": {"name": "p2"},
  "resolve": {"axis": {"x": "independent", "y": "independent"}},
  "encoding": {
   "x": {"field": "E", "type": "quantitative", "scale": {"domain": [3.5, 5.5], "nice": false, "zero": false}, "axis": {"title": "E / eV", "values": [3.5,3.6,3.7,3.8,3.9,4.0,4.1,4.2,4.3,4.4,4.5,4.6,4.7,4.8,4.9,5.0,5.1,5.2,5.3,5.4,5.5], "labelExpr": "abs(datum.value*2-round(datum.value*2))<0.01 && datum.value>3.6 ? format(datum.value,'.1f') : ''", "tickSize": {"condition": {"test": "abs(datum.value*2-round(datum.value*2))<0.01", "value": -3.5}, "value": -1.8}}},
   "y": {"field": "v", "type": "quantitative", "stack": null, "scale": {"domain": [0, 1.23], "nice": false}, "axis": {"title": null, "values": [0,0.05,0.1,0.15,0.2,0.25,0.3,0.35,0.4,0.45,0.5,0.55,0.6,0.65,0.7,0.75,0.8,0.85,0.9,0.95,1.0,1.05,1.1,1.15,1.2], "labelExpr": "abs(datum.value*5-round(datum.value*5))<0.01 ? format(datum.value,'.1f') : ''", "tickSize": {"condition": {"test": "abs(datum.value*5-round(datum.value*5))<0.01", "value": -3.5}, "value": -1.8}}}
  },
  "layer": [
   {"transform": [{"filter": "datum.s=='r'"}], "mark": {"type": "area", "color": "#fce0e6", "blend": "multiply", "interpolate": "monotone"}},
   {"transform": [{"filter": "datum.s=='b'"}], "mark": {"type": "area", "color": "#f0e6fc", "blend": "multiply", "interpolate": "monotone"},
    "encoding": {"x": {"field": "E", "type": "quantitative", "scale": {"domain": [3.5, 5.5], "nice": false, "zero": false}, "axis": null}, "y": {"field": "v", "type": "quantitative", "stack": null, "scale": {"domain": [0, 1.23], "nice": false}, "axis": null}}},
   {"transform": [{"filter": "datum.s=='line'"}], "mark": {"type": "line", "color": "#e0201e", "strokeWidth": 1.3, "interpolate": "monotone"},
    "encoding": {"x": {"field": "E", "type": "quantitative", "scale": {"domain": [3.5, 5.5], "nice": false, "zero": false}, "axis": {"orient": "top", "labels": false, "title": null, "values": [3.5,3.6,3.7,3.8,3.9,4.0,4.1,4.2,4.3,4.4,4.5,4.6,4.7,4.8,4.9,5.0,5.1,5.2,5.3,5.4,5.5], "tickSize": {"condition": {"test": "abs(datum.value*2-round(datum.value*2))<0.01", "value": -3.5}, "value": -1.8}}}, "y": {"field": "v", "type": "quantitative", "stack": null, "scale": {"domain": [0, 1.23], "nice": false}, "axis": {"orient": "right", "labels": false, "title": null, "values": [0,0.05,0.1,0.15,0.2,0.25,0.3,0.35,0.4,0.45,0.5,0.55,0.6,0.65,0.7,0.75,0.8,0.85,0.9,0.95,1.0,1.05,1.1,1.15,1.2], "tickSize": {"condition": {"test": "abs(datum.value*5-round(datum.value*5))<0.01", "value": -3.5}, "value": -1.8}}}}}
  ]},
 {"width": 219, "height": 128, "title": {"text": "ADC(2)", "dx": 10}, "data": {"name": "p3"},
  "resolve": {"axis": {"x": "independent", "y": "independent"}},
  "encoding": {
   "x": {"field": "E", "type": "quantitative", "scale": {"domain": [3.5, 5.5], "nice": false, "zero": false}, "axis": {"title": "E / eV", "values": [3.5,3.6,3.7,3.8,3.9,4.0,4.1,4.2,4.3,4.4,4.5,4.6,4.7,4.8,4.9,5.0,5.1,5.2,5.3,5.4,5.5], "labelExpr": "abs(datum.value*2-round(datum.value*2))<0.01 && datum.value>3.6 ? format(datum.value,'.1f') : ''", "tickSize": {"condition": {"test": "abs(datum.value*2-round(datum.value*2))<0.01", "value": -3.5}, "value": -1.8}}},
   "y": {"field": "v", "type": "quantitative", "stack": null, "scale": {"domain": [0, 1.23], "nice": false}, "axis": {"title": null, "values": [0,0.05,0.1,0.15,0.2,0.25,0.3,0.35,0.4,0.45,0.5,0.55,0.6,0.65,0.7,0.75,0.8,0.85,0.9,0.95,1.0,1.05,1.1,1.15,1.2], "labelExpr": "abs(datum.value*5-round(datum.value*5))<0.01 ? format(datum.value,'.1f') : ''", "tickSize": {"condition": {"test": "abs(datum.value*5-round(datum.value*5))<0.01", "value": -3.5}, "value": -1.8}}}
  },
  "layer": [
   {"transform": [{"filter": "datum.s=='r'"}], "mark": {"type": "area", "color": "#fce0e6", "blend": "multiply", "interpolate": "monotone"}},
   {"transform": [{"filter": "datum.s=='b'"}], "mark": {"type": "area", "color": "#f0e6fc", "blend": "multiply", "interpolate": "monotone"},
    "encoding": {"x": {"field": "E", "type": "quantitative", "scale": {"domain": [3.5, 5.5], "nice": false, "zero": false}, "axis": null}, "y": {"field": "v", "type": "quantitative", "stack": null, "scale": {"domain": [0, 1.23], "nice": false}, "axis": null}}},
   {"transform": [{"filter": "datum.s=='line'"}], "mark": {"type": "line", "color": "#e0201e", "strokeWidth": 1.3, "interpolate": "monotone"},
    "encoding": {"x": {"field": "E", "type": "quantitative", "scale": {"domain": [3.5, 5.5], "nice": false, "zero": false}, "axis": {"orient": "top", "labels": false, "title": null, "values": [3.5,3.6,3.7,3.8,3.9,4.0,4.1,4.2,4.3,4.4,4.5,4.6,4.7,4.8,4.9,5.0,5.1,5.2,5.3,5.4,5.5], "tickSize": {"condition": {"test": "abs(datum.value*2-round(datum.value*2))<0.01", "value": -3.5}, "value": -1.8}}}, "y": {"field": "v", "type": "quantitative", "stack": null, "scale": {"domain": [0, 1.23], "nice": false}, "axis": {"orient": "right", "labels": false, "title": null, "values": [0,0.05,0.1,0.15,0.2,0.25,0.3,0.35,0.4,0.45,0.5,0.55,0.6,0.65,0.7,0.75,0.8,0.85,0.9,0.95,1.0,1.05,1.1,1.15,1.2], "tickSize": {"condition": {"test": "abs(datum.value*5-round(datum.value*5))<0.01", "value": -3.5}, "value": -1.8}}}}}
  ]}
], "spacing": 13, "bounds": "flush"},
{"hconcat": [
 {"width": 210, "height": 130, "data": {"name": "p4"},
  "resolve": {"axis": {"x": "independent", "y": "independent"}},
  "encoding": {
   "x": {"field": "E", "type": "quantitative", "scale": {"domain": [4.1, 6.5], "nice": false, "zero": false}, "axis": {"title": "E / eV", "values": [4.1,4.2,4.3,4.4,4.5,4.6,4.7,4.8,4.9,5.0,5.1,5.2,5.3,5.4,5.5,5.6,5.7,5.8,5.9,6.0,6.1,6.2,6.3,6.4,6.5], "labelExpr": "abs(datum.value*2-round(datum.value*2))<0.01 ? format(datum.value,'.1f') : ''", "tickSize": {"condition": {"test": "abs(datum.value*2-round(datum.value*2))<0.01", "value": -3.5}, "value": -1.8}}},
   "y": {"field": "v", "type": "quantitative", "stack": null, "scale": {"domain": [0, 0.578], "nice": false}, "axis": {"title": "cross section", "values": [0,0.02,0.04,0.06,0.08,0.1,0.12,0.14,0.16,0.18,0.2,0.22,0.24,0.26,0.28,0.3,0.32,0.34,0.36,0.38,0.4,0.42,0.44,0.46,0.48,0.5,0.52,0.54,0.56], "labelExpr": "abs(datum.value*10-round(datum.value*10))<0.01 ? format(datum.value,'.1f') : ''", "tickSize": {"condition": {"test": "abs(datum.value*10-round(datum.value*10))<0.01", "value": -3.5}, "value": -1.8}}}
  },
  "layer": [
   {"transform": [{"filter": "datum.s=='r'"}], "mark": {"type": "area", "color": "#fae2f2", "blend": "multiply", "interpolate": "monotone"}},
   {"transform": [{"filter": "datum.s=='b'"}], "mark": {"type": "area", "color": "#fae2f2", "blend": "multiply", "interpolate": "monotone"},
    "encoding": {"x": {"field": "E", "type": "quantitative", "scale": {"domain": [4.1, 6.5], "nice": false, "zero": false}, "axis": null}, "y": {"field": "v", "type": "quantitative", "stack": null, "scale": {"domain": [0, 0.578], "nice": false}, "axis": null}}},
   {"transform": [{"filter": "datum.s=='line'"}], "mark": {"type": "line", "color": "#e0201e", "strokeWidth": 1.3, "interpolate": "monotone"},
    "encoding": {"x": {"field": "E", "type": "quantitative", "scale": {"domain": [4.1, 6.5], "nice": false, "zero": false}, "axis": {"orient": "top", "labels": false, "title": null, "values": [4.1,4.2,4.3,4.4,4.5,4.6,4.7,4.8,4.9,5.0,5.1,5.2,5.3,5.4,5.5,5.6,5.7,5.8,5.9,6.0,6.1,6.2,6.3,6.4,6.5], "tickSize": {"condition": {"test": "abs(datum.value*2-round(datum.value*2))<0.01", "value": -3.5}, "value": -1.8}}}, "y": {"field": "v", "type": "quantitative", "stack": null, "scale": {"domain": [0, 0.578], "nice": false}, "axis": {"orient": "right", "labels": false, "title": null, "values": [0,0.02,0.04,0.06,0.08,0.1,0.12,0.14,0.16,0.18,0.2,0.22,0.24,0.26,0.28,0.3,0.32,0.34,0.36,0.38,0.4,0.42,0.44,0.46,0.48,0.5,0.52,0.54,0.56], "tickSize": {"condition": {"test": "abs(datum.value*10-round(datum.value*10))<0.01", "value": -3.5}, "value": -1.8}}}}}
  ]},
 {"width": 211, "height": 130, "data": {"name": "p5"},
  "resolve": {"axis": {"x": "independent", "y": "independent"}},
  "encoding": {
   "x": {"field": "E", "type": "quantitative", "scale": {"domain": [4.1, 6.5], "nice": false, "zero": false}, "axis": {"title": "E / eV", "values": [4.1,4.2,4.3,4.4,4.5,4.6,4.7,4.8,4.9,5.0,5.1,5.2,5.3,5.4,5.5,5.6,5.7,5.8,5.9,6.0,6.1,6.2,6.3,6.4,6.5], "labelExpr": "abs(datum.value*2-round(datum.value*2))<0.01 ? format(datum.value,'.1f') : ''", "tickSize": {"condition": {"test": "abs(datum.value*2-round(datum.value*2))<0.01", "value": -3.5}, "value": -1.8}}},
   "y": {"field": "v", "type": "quantitative", "stack": null, "scale": {"domain": [0, 0.578], "nice": false}, "axis": {"title": null, "values": [0,0.02,0.04,0.06,0.08,0.1,0.12,0.14,0.16,0.18,0.2,0.22,0.24,0.26,0.28,0.3,0.32,0.34,0.36,0.38,0.4,0.42,0.44,0.46,0.48,0.5,0.52,0.54,0.56], "labelExpr": "abs(datum.value*10-round(datum.value*10))<0.01 ? format(datum.value,'.1f') : ''", "tickSize": {"condition": {"test": "abs(datum.value*10-round(datum.value*10))<0.01", "value": -3.5}, "value": -1.8}}}
  },
  "layer": [
   {"transform": [{"filter": "datum.s=='r'"}], "mark": {"type": "area", "color": "#fae2f2", "blend": "multiply", "interpolate": "monotone"}},
   {"transform": [{"filter": "datum.s=='b'"}], "mark": {"type": "area", "color": "#fae2f2", "blend": "multiply", "interpolate": "monotone"},
    "encoding": {"x": {"field": "E", "type": "quantitative", "scale": {"domain": [4.1, 6.5], "nice": false, "zero": false}, "axis": null}, "y": {"field": "v", "type": "quantitative", "stack": null, "scale": {"domain": [0, 0.578], "nice": false}, "axis": null}}},
   {"transform": [{"filter": "datum.s=='line'"}], "mark": {"type": "line", "color": "#e0201e", "strokeWidth": 1.3, "interpolate": "monotone"},
    "encoding": {"x": {"field": "E", "type": "quantitative", "scale": {"domain": [4.1, 6.5], "nice": false, "zero": false}, "axis": {"orient": "top", "labels": false, "title": null, "values": [4.1,4.2,4.3,4.4,4.5,4.6,4.7,4.8,4.9,5.0,5.1,5.2,5.3,5.4,5.5,5.6,5.7,5.8,5.9,6.0,6.1,6.2,6.3,6.4,6.5], "tickSize": {"condition": {"test": "abs(datum.value*2-round(datum.value*2))<0.01", "value": -3.5}, "value": -1.8}}}, "y": {"field": "v", "type": "quantitative", "stack": null, "scale": {"domain": [0, 0.578], "nice": false}, "axis": {"orient": "right", "labels": false, "title": null, "values": [0,0.02,0.04,0.06,0.08,0.1,0.12,0.14,0.16,0.18,0.2,0.22,0.24,0.26,0.28,0.3,0.32,0.34,0.36,0.38,0.4,0.42,0.44,0.46,0.48,0.5,0.52,0.54,0.56], "tickSize": {"condition": {"test": "abs(datum.value*10-round(datum.value*10))<0.01", "value": -3.5}, "value": -1.8}}}}}
  ]},
 {"width": 210, "height": 130, "data": {"name": "p6"},
  "resolve": {"axis": {"x": "independent", "y": "independent"}},
  "encoding": {
   "x": {"field": "E", "type": "quantitative", "scale": {"domain": [4.1, 6.5], "nice": false, "zero": false}, "axis": {"title": "E / eV", "values": [4.1,4.2,4.3,4.4,4.5,4.6,4.7,4.8,4.9,5.0,5.1,5.2,5.3,5.4,5.5,5.6,5.7,5.8,5.9,6.0,6.1,6.2,6.3,6.4,6.5], "labelExpr": "abs(datum.value*2-round(datum.value*2))<0.01 ? format(datum.value,'.1f') : ''", "tickSize": {"condition": {"test": "abs(datum.value*2-round(datum.value*2))<0.01", "value": -3.5}, "value": -1.8}}},
   "y": {"field": "v", "type": "quantitative", "stack": null, "scale": {"domain": [0, 0.578], "nice": false}, "axis": {"title": null, "values": [0,0.02,0.04,0.06,0.08,0.1,0.12,0.14,0.16,0.18,0.2,0.22,0.24,0.26,0.28,0.3,0.32,0.34,0.36,0.38,0.4,0.42,0.44,0.46,0.48,0.5,0.52,0.54,0.56], "labelExpr": "abs(datum.value*10-round(datum.value*10))<0.01 ? format(datum.value,'.1f') : ''", "tickSize": {"condition": {"test": "abs(datum.value*10-round(datum.value*10))<0.01", "value": -3.5}, "value": -1.8}}}
  },
  "layer": [
   {"transform": [{"filter": "datum.s=='r'"}], "mark": {"type": "area", "color": "#fae2f2", "blend": "multiply", "interpolate": "monotone"}},
   {"transform": [{"filter": "datum.s=='b'"}], "mark": {"type": "area", "color": "#fae2f2", "blend": "multiply", "interpolate": "monotone"},
    "encoding": {"x": {"field": "E", "type": "quantitative", "scale": {"domain": [4.1, 6.5], "nice": false, "zero": false}, "axis": null}, "y": {"field": "v", "type": "quantitative", "stack": null, "scale": {"domain": [0, 0.578], "nice": false}, "axis": null}}},
   {"transform": [{"filter": "datum.s=='line'"}], "mark": {"type": "line", "color": "#e0201e", "strokeWidth": 1.3, "interpolate": "monotone"},
    "encoding": {"x": {"field": "E", "type": "quantitative", "scale": {"domain": [4.1, 6.5], "nice": false, "zero": false}, "axis": {"orient": "top", "labels": false, "title": null, "values": [4.1,4.2,4.3,4.4,4.5,4.6,4.7,4.8,4.9,5.0,5.1,5.2,5.3,5.4,5.5,5.6,5.7,5.8,5.9,6.0,6.1,6.2,6.3,6.4,6.5], "tickSize": {"condition": {"test": "abs(datum.value*2-round(datum.value*2))<0.01", "value": -3.5}, "value": -1.8}}}, "y": {"field": "v", "type": "quantitative", "stack": null, "scale": {"domain": [0, 0.578], "nice": false}, "axis": {"orient": "right", "labels": false, "title": null, "values": [0,0.02,0.04,0.06,0.08,0.1,0.12,0.14,0.16,0.18,0.2,0.22,0.24,0.26,0.28,0.3,0.32,0.34,0.36,0.38,0.4,0.42,0.44,0.46,0.48,0.5,0.52,0.54,0.56], "tickSize": {"condition": {"test": "abs(datum.value*10-round(datum.value*10))<0.01", "value": -3.5}, "value": -1.8}}}}}
  ]}
], "spacing": 21, "bounds": "flush"},
{"hconcat": [
 {"hconcat": [
 {"width": 213, "height": 131, "data": {"name": "p7"},
  "resolve": {"axis": {"x": "independent", "y": "independent"}},
  "encoding": {
   "x": {"field": "E", "type": "quantitative", "scale": {"domain": [3.4, 6.5], "nice": false, "zero": false}, "axis": {"title": "E / eV", "values": [3.4,3.5,3.6,3.7,3.8,3.9,4.0,4.1,4.2,4.3,4.4,4.5,4.6,4.7,4.8,4.9,5.0,5.1,5.2,5.3,5.4,5.5,5.6,5.7,5.8,5.9,6.0,6.1,6.2,6.3,6.4,6.5], "labelExpr": "abs(datum.value*2-round(datum.value*2))<0.01 && datum.value<6.3 ? format(datum.value,'.1f') : ''", "tickSize": {"condition": {"test": "abs(datum.value*2-round(datum.value*2))<0.01", "value": -3.5}, "value": -1.8}}},
   "y": {"field": "v", "type": "quantitative", "stack": null, "scale": {"domain": [0, 0.81], "nice": false}, "axis": {"title": "cross section", "values": [0,0.05,0.1,0.15,0.2,0.25,0.3,0.35,0.4,0.45,0.5,0.55,0.6,0.65,0.7,0.75,0.8], "labelExpr": "abs(datum.value*5-round(datum.value*5))<0.01 ? format(datum.value,'.1f') : ''", "tickSize": {"condition": {"test": "abs(datum.value*5-round(datum.value*5))<0.01", "value": -3.5}, "value": -1.8}}}
  },
  "layer": [
   {"transform": [{"filter": "datum.s=='r'"}], "mark": {"type": "area", "color": "#fce0e6", "blend": "multiply", "interpolate": "monotone"}},
   {"transform": [{"filter": "datum.s=='b'"}], "mark": {"type": "area", "color": "#f0e6fc", "blend": "multiply", "interpolate": "monotone"},
    "encoding": {"x": {"field": "E", "type": "quantitative", "scale": {"domain": [3.4, 6.5], "nice": false, "zero": false}, "axis": null}, "y": {"field": "v", "type": "quantitative", "stack": null, "scale": {"domain": [0, 0.81], "nice": false}, "axis": null}}},
   {"transform": [{"filter": "datum.s=='line'"}], "mark": {"type": "line", "color": "#e0201e", "strokeWidth": 1.3, "interpolate": "monotone"},
    "encoding": {"x": {"field": "E", "type": "quantitative", "scale": {"domain": [3.4, 6.5], "nice": false, "zero": false}, "axis": {"orient": "top", "labels": false, "title": null, "values": [3.4,3.5,3.6,3.7,3.8,3.9,4.0,4.1,4.2,4.3,4.4,4.5,4.6,4.7,4.8,4.9,5.0,5.1,5.2,5.3,5.4,5.5,5.6,5.7,5.8,5.9,6.0,6.1,6.2,6.3,6.4,6.5], "tickSize": {"condition": {"test": "abs(datum.value*2-round(datum.value*2))<0.01", "value": -3.5}, "value": -1.8}}}, "y": {"field": "v", "type": "quantitative", "stack": null, "scale": {"domain": [0, 0.81], "nice": false}, "axis": {"orient": "right", "labels": false, "title": null, "values": [0,0.05,0.1,0.15,0.2,0.25,0.3,0.35,0.4,0.45,0.5,0.55,0.6,0.65,0.7,0.75,0.8], "tickSize": {"condition": {"test": "abs(datum.value*5-round(datum.value*5))<0.01", "value": -3.5}, "value": -1.8}}}}}
  ]},
 {"width": 222, "height": 131, "data": {"name": "p8"},
  "resolve": {"axis": {"x": "independent", "y": "independent"}},
  "encoding": {
   "x": {"field": "E", "type": "quantitative", "scale": {"domain": [3.25, 6.42], "nice": false, "zero": false}, "axis": {"title": "E / eV", "values": [3.3,3.4,3.5,3.6,3.7,3.8,3.9,4.0,4.1,4.2,4.3,4.4,4.5,4.6,4.7,4.8,4.9,5.0,5.1,5.2,5.3,5.4,5.5,5.6,5.7,5.8,5.9,6.0,6.1,6.2,6.3,6.4], "labelExpr": "abs(datum.value*2-round(datum.value*2))<0.01 ? format(datum.value,'.1f') : ''", "tickSize": {"condition": {"test": "abs(datum.value*2-round(datum.value*2))<0.01", "value": -3.5}, "value": -1.8}}},
   "y": {"field": "v", "type": "quantitative", "stack": null, "scale": {"domain": [0, 0.81], "nice": false}, "axis": {"title": null, "values": [0,0.05,0.1,0.15,0.2,0.25,0.3,0.35,0.4,0.45,0.5,0.55,0.6,0.65,0.7,0.75,0.8], "labelExpr": "abs(datum.value*5-round(datum.value*5))<0.01 ? format(datum.value,'.1f') : ''", "tickSize": {"condition": {"test": "abs(datum.value*5-round(datum.value*5))<0.01", "value": -3.5}, "value": -1.8}}}
  },
  "layer": [
   {"transform": [{"filter": "datum.s=='r'"}], "mark": {"type": "area", "color": "#fce0e6", "blend": "multiply", "interpolate": "monotone"}},
   {"transform": [{"filter": "datum.s=='b'"}], "mark": {"type": "area", "color": "#f0e6fc", "blend": "multiply", "interpolate": "monotone"},
    "encoding": {"x": {"field": "E", "type": "quantitative", "scale": {"domain": [3.25, 6.42], "nice": false, "zero": false}, "axis": null}, "y": {"field": "v", "type": "quantitative", "stack": null, "scale": {"domain": [0, 0.81], "nice": false}, "axis": null}}},
   {"transform": [{"filter": "datum.s=='line'"}], "mark": {"type": "line", "color": "#e0201e", "strokeWidth": 1.3, "interpolate": "monotone"},
    "encoding": {"x": {"field": "E", "type": "quantitative", "scale": {"domain": [3.25, 6.42], "nice": false, "zero": false}, "axis": {"orient": "top", "labels": false, "title": null, "values": [3.3,3.4,3.5,3.6,3.7,3.8,3.9,4.0,4.1,4.2,4.3,4.4,4.5,4.6,4.7,4.8,4.9,5.0,5.1,5.2,5.3,5.4,5.5,5.6,5.7,5.8,5.9,6.0,6.1,6.2,6.3,6.4], "tickSize": {"condition": {"test": "abs(datum.value*2-round(datum.value*2))<0.01", "value": -3.5}, "value": -1.8}}}, "y": {"field": "v", "type": "quantitative", "stack": null, "scale": {"domain": [0, 0.81], "nice": false}, "axis": {"orient": "right", "labels": false, "title": null, "values": [0,0.05,0.1,0.15,0.2,0.25,0.3,0.35,0.4,0.45,0.5,0.55,0.6,0.65,0.7,0.75,0.8], "tickSize": {"condition": {"test": "abs(datum.value*5-round(datum.value*5))<0.01", "value": -3.5}, "value": -1.8}}}}}
  ]}
 ], "spacing": 11, "bounds": "flush"},
 {"width": 212, "height": 131, "data": {"name": "p9"},
  "resolve": {"axis": {"x": "independent", "y": "independent"}},
  "encoding": {
   "x": {"field": "E", "type": "quantitative", "scale": {"domain": [3.41, 6.43], "nice": false, "zero": false}, "axis": {"title": "E / eV", "values": [3.5,3.6,3.7,3.8,3.9,4.0,4.1,4.2,4.3,4.4,4.5,4.6,4.7,4.8,4.9,5.0,5.1,5.2,5.3,5.4,5.5,5.6,5.7,5.8,5.9,6.0,6.1,6.2,6.3,6.4], "labelExpr": "abs(datum.value*2-round(datum.value*2))<0.01 ? format(datum.value,'.1f') : ''", "tickSize": {"condition": {"test": "abs(datum.value*2-round(datum.value*2))<0.01", "value": -3.5}, "value": -1.8}}},
   "y": {"field": "v", "type": "quantitative", "stack": null, "scale": {"domain": [0, 0.81], "nice": false}, "axis": {"title": null, "values": [0,0.05,0.1,0.15,0.2,0.25,0.3,0.35,0.4,0.45,0.5,0.55,0.6,0.65,0.7,0.75,0.8], "labelExpr": "abs(datum.value*5-round(datum.value*5))<0.01 ? format(datum.value,'.1f') : ''", "tickSize": {"condition": {"test": "abs(datum.value*5-round(datum.value*5))<0.01", "value": -3.5}, "value": -1.8}}}
  },
  "layer": [
   {"transform": [{"filter": "datum.s=='r'"}], "mark": {"type": "area", "color": "#fce0e6", "blend": "multiply", "interpolate": "monotone"}},
   {"transform": [{"filter": "datum.s=='b'"}], "mark": {"type": "area", "color": "#f0e6fc", "blend": "multiply", "interpolate": "monotone"},
    "encoding": {"x": {"field": "E", "type": "quantitative", "scale": {"domain": [3.41, 6.43], "nice": false, "zero": false}, "axis": null}, "y": {"field": "v", "type": "quantitative", "stack": null, "scale": {"domain": [0, 0.81], "nice": false}, "axis": null}}},
   {"transform": [{"filter": "datum.s=='line'"}], "mark": {"type": "line", "color": "#e0201e", "strokeWidth": 1.3, "interpolate": "monotone"},
    "encoding": {"x": {"field": "E", "type": "quantitative", "scale": {"domain": [3.41, 6.43], "nice": false, "zero": false}, "axis": {"orient": "top", "labels": false, "title": null, "values": [3.5,3.6,3.7,3.8,3.9,4.0,4.1,4.2,4.3,4.4,4.5,4.6,4.7,4.8,4.9,5.0,5.1,5.2,5.3,5.4,5.5,5.6,5.7,5.8,5.9,6.0,6.1,6.2,6.3,6.4], "tickSize": {"condition": {"test": "abs(datum.value*2-round(datum.value*2))<0.01", "value": -3.5}, "value": -1.8}}}, "y": {"field": "v", "type": "quantitative", "stack": null, "scale": {"domain": [0, 0.81], "nice": false}, "axis": {"orient": "right", "labels": false, "title": null, "values": [0,0.05,0.1,0.15,0.2,0.25,0.3,0.35,0.4,0.45,0.5,0.55,0.6,0.65,0.7,0.75,0.8], "tickSize": {"condition": {"test": "abs(datum.value*5-round(datum.value*5))<0.01", "value": -3.5}, "value": -1.8}}}}}
  ]}
], "spacing": 5.5}
]
}
